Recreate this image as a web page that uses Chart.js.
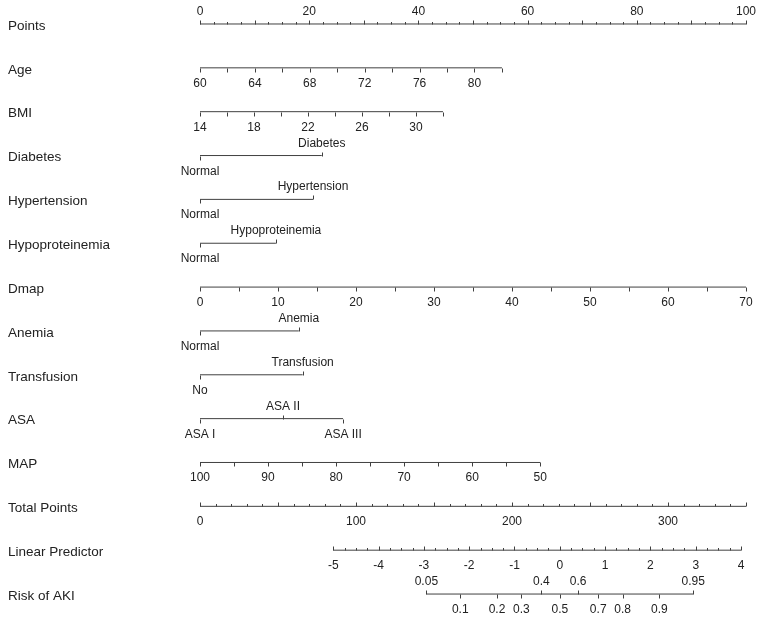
<!DOCTYPE html>
<html>
<head>
<meta charset="utf-8">
<title>Nomogram - Risk of AKI</title>
<script src="https://cdn.jsdelivr.net/npm/chart.js@4.4.0/dist/chart.umd.min.js"></script>
<style>
    body { margin: 0; background: #fff; }
</style>
</head>
<body>
<canvas id="myChart" width="764" height="621"></canvas>
<script>
// rows, top to bottom
var rowNames = ['Points', 'Age', 'BMI', 'Diabetes', 'Hypertension', 'Hypoproteinemia', 'Dmap',
    'Anemia', 'Transfusion', 'ASA', 'MAP', 'Total Points', 'Linear Predictor', 'Risk of AKI'];

// continuous variables: value range and the points range it covers
var pointsLabels = [0, 20, 40, 60, 80, 100];
var ageRange = [60, 82];     var agePoints = [0, 55.3];
var ageLabels = [60, 64, 68, 72, 76, 80];
var bmiRange = [14, 32];     var bmiPoints = [0, 44.5];
var bmiLabels = [14, 18, 22, 26, 30];
var dmapRange = [0, 70];     var dmapPoints = [0, 100];
var dmapLabels = [0, 10, 20, 30, 40, 50, 60, 70];
var mapRange = [100, 50];    var mapPoints = [0, 62.3];
var mapLabels = [100, 90, 80, 70, 60, 50];
var totalRange = [0, 350];   var totalPoints = [0, 100];
var totalLabels = [0, 100, 200, 300];
var lpRange = [-5, 4];       var lpPoints = [24.4, 99.1];
var lpLabels = [-5, -4, -3, -2, -1, 0, 1, 2, 3, 4];
var riskAbove = [0.05, 0.4, 0.6, 0.95];
var riskBelow = [0.1, 0.2, 0.3, 0.5, 0.7, 0.8, 0.9];

// categorical variables: levels and their points
var diabetesLevels = ['Normal', 'Diabetes'];            var diabetesPoints = [0, 22.3];
var hypertensionLevels = ['Normal', 'Hypertension'];    var hypertensionPoints = [0, 20.7];
var hypoLevels = ['Normal', 'Hypoproteinemia'];         var hypoPoints = [0, 13.9];
var anemiaLevels = ['Normal', 'Anemia'];                var anemiaPoints = [0, 18.1];
var transfusionLevels = ['No', 'Transfusion'];          var transfusionPoints = [0, 18.8];
var asaLevels = ['ASA I', 'ASA II', 'ASA III'];         var asaPoints = [0, 15.2, 26.2];
var asaSides = ['below', 'above', 'below'];

var lineColor = '#404040';
var textColor = '#222';

function seq(a, b, step) {
    var out = [];
    var n = Math.round((b - a) / step);
    for (var k = 0; k <= n; k++) out.push(+(a + k * step).toFixed(4));
    return out;
}

function lin(range, pts) {
    return function (v) {
        return pts[0] + (v - range[0]) / (range[1] - range[0]) * (pts[1] - pts[0]);
    };
}

var rows = [];

// continuous axis: minor step, major step (longer tick), tick direction, label side
function contRow(i, range, pts, labels, step, major, dir, side) {
    var f = lin(range, pts);
    var lo = Math.min(range[0], range[1]), hi = Math.max(range[0], range[1]);
    var ticks = seq(lo, hi, step).map(function (v) {
        var isMajor = major ? Math.abs(v / major - Math.round(v / major)) < 1e-6 : true;
        return { p: f(v), len: isMajor ? 4 : 2.5, dir: dir };
    });
    var texts = labels.map(function (v) { return { p: f(v), text: String(v), side: side }; });
    rows.push({ row: i, span: [pts[0], pts[1]], ticks: ticks, texts: texts });
}

function catRow(i, levels, pts, sides) {
    var ticks = [], texts = [];
    levels.forEach(function (lv, k) {
        var side = sides ? sides[k] : (k === 0 ? 'below' : 'above');
        ticks.push({ p: pts[k], len: 4, dir: side === 'above' ? 'up' : 'down' });
        texts.push({ p: pts[k], text: lv, side: side });
    });
    rows.push({ row: i, span: [pts[0], pts[pts.length - 1]], ticks: ticks, texts: texts });
}

contRow(0, [0, 100], [0, 100], pointsLabels, 2.5, 10, 'up', 'above');
contRow(1, ageRange, agePoints, ageLabels, 2, null, 'down', 'below');
contRow(2, bmiRange, bmiPoints, bmiLabels, 2, null, 'down', 'below');
catRow(3, diabetesLevels, diabetesPoints);
catRow(4, hypertensionLevels, hypertensionPoints);
catRow(5, hypoLevels, hypoPoints);
contRow(6, dmapRange, dmapPoints, dmapLabels, 5, null, 'down', 'below');
catRow(7, anemiaLevels, anemiaPoints);
catRow(8, transfusionLevels, transfusionPoints);
catRow(9, asaLevels, asaPoints, asaSides);
contRow(10, mapRange, mapPoints, mapLabels, 5, null, 'down', 'below');
contRow(11, totalRange, totalPoints, totalLabels, 10, 50, 'up', 'below');
contRow(12, lpRange, lpPoints, lpLabels, 0.25, 1, 'up', 'below');

// risk axis sits on the logit scale of the linear predictor
var lpToPts = lin(lpRange, lpPoints);
function riskPts(r) { return lpToPts(Math.log(r / (1 - r))); }
(function () {
    var ticks = [], texts = [];
    riskAbove.forEach(function (r) {
        ticks.push({ p: riskPts(r), len: 4, dir: 'up' });
        texts.push({ p: riskPts(r), text: String(r), side: 'above' });
    });
    riskBelow.forEach(function (r) {
        ticks.push({ p: riskPts(r), len: 4, dir: 'down' });
        texts.push({ p: riskPts(r), text: String(r), side: 'below' });
    });
    rows.push({ row: 13, span: [riskPts(0.05), riskPts(0.95)], ticks: ticks, texts: texts });
})();

var datasets = rows.map(function (r) {
    return {
        data: [{ x: r.span[0], y: r.row }, { x: r.span[1], y: r.row }],
        borderColor: lineColor,
        borderWidth: 1,
        pointRadius: 0,
        fill: false
    };
});

var nomoPlugin = {
    id: 'nomo',
    afterDatasetsDraw: function (chart) {
        var ctx = chart.ctx;
        var xs = chart.scales.x, ys = chart.scales.y;
        ctx.save();
        // row names
        ctx.fillStyle = textColor;
        ctx.font = "13.5px 'Liberation Sans', Arial, sans-serif";
        ctx.textAlign = 'left';
        ctx.textBaseline = 'middle';
        rowNames.forEach(function (name, i) {
            ctx.fillText(name, 8, ys.getPixelForValue(i) + 2);
        });
        // ticks and tick labels
        ctx.strokeStyle = lineColor;
        ctx.lineWidth = 1;
        ctx.font = "12px 'Liberation Sans', Arial, sans-serif";
        ctx.textAlign = 'center';
        rows.forEach(function (r) {
            var y = Math.round(ys.getPixelForValue(r.row)) + 0.5;
            r.ticks.forEach(function (t) {
                var x = Math.round(xs.getPixelForValue(t.p)) + 0.5;
                ctx.beginPath();
                ctx.moveTo(x, y);
                ctx.lineTo(x, t.dir === 'up' ? y - t.len : y + t.len);
                ctx.stroke();
            });
            r.texts.forEach(function (t) {
                var x = xs.getPixelForValue(t.p);
                ctx.fillText(t.text, x, t.side === 'above' ? y - 13 : y + 15);
            });
        });
        ctx.restore();
    }
};

var ctx = document.getElementById('myChart').getContext('2d');
var chart = new Chart(ctx, {
    type: 'line',
    data: { datasets: datasets },
    options: {
        responsive: false,
        devicePixelRatio: 1,
        animation: false,
        layout: { padding: { left: 200, right: 18, top: 0, bottom: 0 } },
        plugins: { legend: { display: false }, tooltip: { enabled: false } },
        scales: {
            x: { type: 'linear', min: 0, max: 100, display: false },
            y: { type: 'linear', min: -0.547, max: 13.615, reverse: true, display: false }
        }
    },
    plugins: [nomoPlugin]
});
</script>
</body>
</html>
